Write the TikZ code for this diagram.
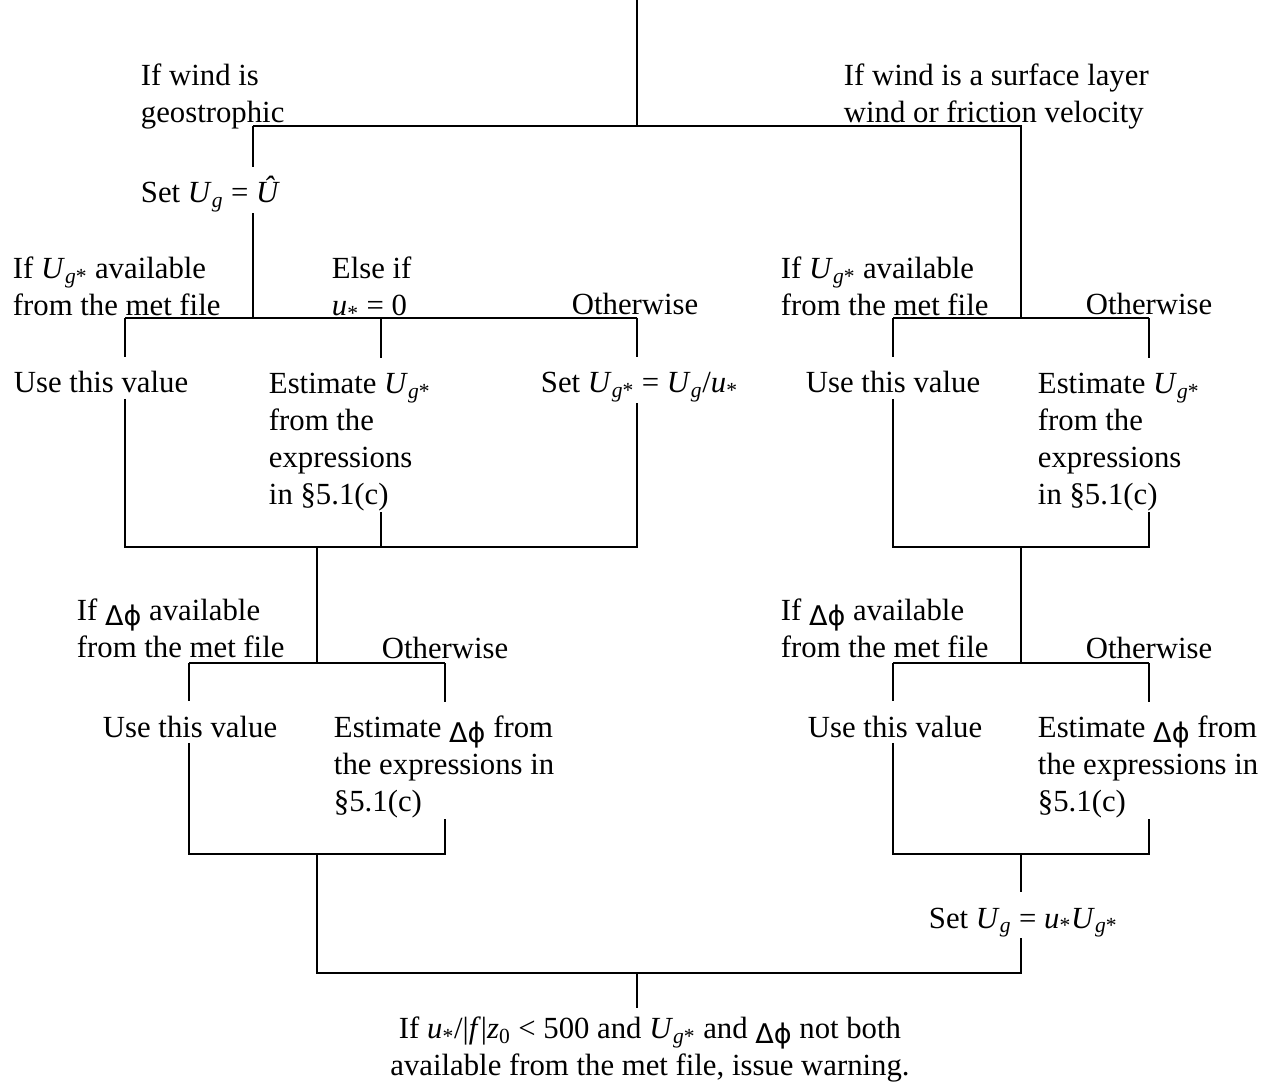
\documentclass[tikz,border=0pt]{standalone}
\usepackage{fontspec}
\setmainfont{Liberation Serif}
\newfontfamily\symfont[Scale=0.88]{DejaVu Sans}
\newcommand\bodyfont{\fontsize{17.5pt}{21pt}\selectfont}
\newcommand\tstrut{\rule[-0.1cm]{0pt}{0.8cm}}
\newcommand\Ug{\textit{U}\textsubscript{\textit{g}}}
\newcommand\Ugs{\textit{U}\textsubscript{\textit{g}*}}
\newcommand\us{\textit{u}\textsubscript{*}}
\newcommand\dphi{\raisebox{-0.35ex}{\symfont Δϕ}}

\begin{document}
\begin{tikzpicture}[x=0.02cm, y=-0.02cm, line width=1.1pt,
		lbl/.style={inner sep=0pt, anchor=base west, font=\bodyfont, execute at begin node=\tstrut},
		blk/.style={inner sep=0pt, anchor=north west, align=left, font=\bodyfont}]
	\useasboundingbox (0,0) rectangle (1279,1091);
	% texts
	\node[blk] (geo) at (140,50) {\tstrut If wind is\\geostrophic};
	\node[blk] (sfc) at (843,50) {\tstrut If wind is a surface layer\\wind or friction velocity};
	\node[lbl] (setug) at (140,203) {Set \Ug{} = \textit{Û}};
	\node[blk] (availL) at (12,243) {\tstrut If \Ugs{} available\\from the met file};
	\node[blk] (elseL) at (331,243) {\tstrut Else if\\\us{} = 0};
	\node[lbl] (othL) at (571,315) {Otherwise};
	\node[lbl] (useL) at (13,393) {Use this value};
	\node[blk] (estL) at (268,358) {\tstrut Estimate \Ugs\\from the\\expressions\\in §5.1(c)};
	\node[lbl] (setgs) at (540,393) {Set \Ugs{} = \Ug/\us};
	\node[blk] (dphiL) at (76,585) {\tstrut If \dphi{} available\\from the met file};
	\node[lbl] (othL2) at (381,658) {Otherwise};
	\node[lbl] (useL2) at (102,737) {Use this value};
	\node[blk] (estL2) at (333,702) {\tstrut Estimate \dphi{} from\\the expressions in\\§5.1(c)};
	\node[blk] (availR) at (780,243) {\tstrut If \Ugs{} available\\from the met file};
	\node[lbl] (othR) at (1085,315) {Otherwise};
	\node[lbl] (useR) at (805,393) {Use this value};
	\node[blk] (estR) at (1037,358) {\tstrut Estimate \Ugs\\from the\\expressions\\in §5.1(c)};
	\node[blk] (dphiR) at (780,585) {\tstrut If \dphi{} available\\from the met file};
	\node[lbl] (othR2) at (1085,658) {Otherwise};
	\node[lbl] (useR2) at (807,737) {Use this value};
	\node[blk] (estR2) at (1037,702) {\tstrut Estimate \dphi{} from\\the expressions in\\§5.1(c)};
	\node[lbl] (setug2) at (928,928) {Set \Ug{} = \us\Ugs};
	\node[blk, align=center, anchor=north] (warn) at (650,1008) {\rule{0pt}{0.6cm}If \us/|\textit{f}|\textit{z}\textsubscript{0} < 500 and \Ugs{} and \dphi{} not both\\available from the met file, issue warning.};
	% junctions
	\coordinate (top) at (637,0);
	\coordinate (split) at (637,126);
	\coordinate (geoL) at (253,126);
	\coordinate (sfcR) at (1021,126);
	\coordinate (aL) at (253,318);
	\coordinate (aL1) at (125,318);
	\coordinate (aL2) at (381,318);
	\coordinate (aL3) at (637,318);
	\coordinate (bL1) at (125,547);
	\coordinate (bL2) at (381,547);
	\coordinate (bL3) at (637,547);
	\coordinate (bL) at (317,547);
	\coordinate (cL) at (317,663);
	\coordinate (cL1) at (189,663);
	\coordinate (cL2) at (445,663);
	\coordinate (dL1) at (189,854);
	\coordinate (dL2) at (445,854);
	\coordinate (dL) at (317,854);
	\coordinate (eL) at (317,973);
	\coordinate (aR) at (1021,318);
	\coordinate (aR1) at (893,318);
	\coordinate (aR2) at (1149,318);
	\coordinate (bR1) at (893,547);
	\coordinate (bR2) at (1149,547);
	\coordinate (bR) at (1021,547);
	\coordinate (cR) at (1021,663);
	\coordinate (cR1) at (893,663);
	\coordinate (cR2) at (1149,663);
	\coordinate (dR1) at (893,854);
	\coordinate (dR2) at (1149,854);
	\coordinate (dR) at (1021,854);
	\coordinate (eR) at (1021,973);
	\coordinate (merge) at (637,973);
	% lines
	\draw (top) -- (split);
	\draw (geoL) -- (sfcR) -- (aR);
	\draw (geoL) -- (setug.north -| geoL);
	\draw (setug.south -| geoL) -- (aL);
	\draw (aL1) -- (aL3);
	\draw (aL1) -- (useL.north -| aL1);
	\draw (aL2) -- (estL.north -| aL2);
	\draw (aL3) -- (setgs.north -| aL3);
	\draw (useL.south -| bL1) -- (bL1) -- (bL3) -- (setgs.south -| bL3);
	\draw (estL.south -| bL2) -- (bL2);
	\draw (bL) -- (cL);
	\draw (cL1) -- (cL2);
	\draw (cL1) -- (useL2.north -| cL1);
	\draw (cL2) -- (estL2.north -| cL2);
	\draw (useL2.south -| dL1) -- (dL1) -- (dL2) -- (estL2.south -| dL2);
	\draw (aR1) -- (aR2);
	\draw (aR1) -- (useR.north -| aR1);
	\draw (aR2) -- (estR.north -| aR2);
	\draw (useR.south -| bR1) -- (bR1) -- (bR2) -- (estR.south -| bR2);
	\draw (bR) -- (cR);
	\draw (cR1) -- (cR2);
	\draw (cR1) -- (useR2.north -| cR1);
	\draw (cR2) -- (estR2.north -| cR2);
	\draw (useR2.south -| dR1) -- (dR1) -- (dR2) -- (estR2.south -| dR2);
	\draw (dR) -- (setug2.north -| dR);
	\draw (dL) -- (eL) -- (eR) -- (setug2.south -| eR);
	\draw (merge) -- (warn.north -| merge);
\end{tikzpicture}
\end{document}
